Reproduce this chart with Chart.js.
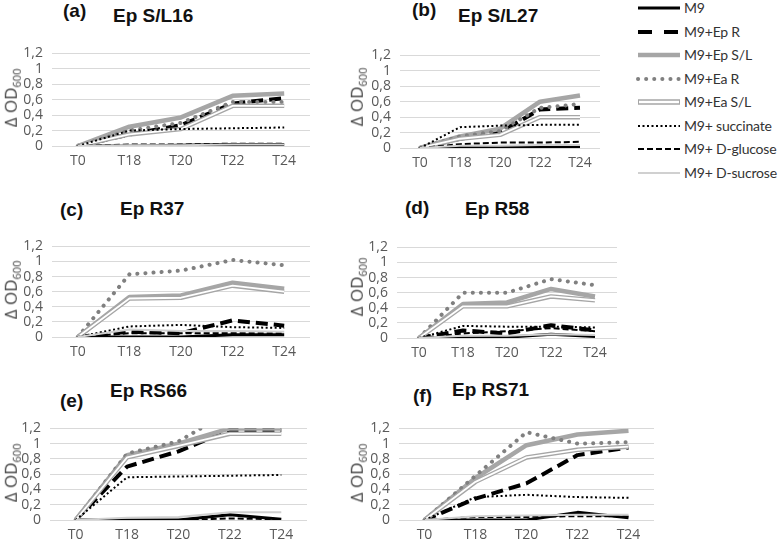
<!DOCTYPE html>
<html>
<head>
<meta charset="utf-8">
<script src="https://cdn.jsdelivr.net/npm/chart.js@4.4.0/dist/chart.umd.min.js"></script>
<style>
  body { margin: 0; width: 778px; height: 543px; background: #fff; position: relative; overflow: hidden; font-family: "Open Sans", sans-serif; }
  canvas { position: absolute; }
  .letter, .title { position: absolute; font: bold 19px "Liberation Sans", Arial, sans-serif; color: #111; line-height: 1; white-space: nowrap; }
  .ytitle { position: absolute; font-size: 17px; color: #404040; white-space: nowrap; line-height: 1; transform: translate(-50%, -50%) rotate(-90deg); }
  .ytitle sub { font-size: 11px; }
  .leg { position: absolute; left: 636px; height: 20px; white-space: nowrap; font-family: Lato, sans-serif; font-size: 14px; color: #333; }
  .leg svg { position: absolute; left: 0; top: 4px; }
  .leg span { position: absolute; left: 48px; top: 0; line-height: 20px; letter-spacing: -0.2px; }
</style>
</head>
<body>
<script>
const categories = ['T0', 'T18', 'T20', 'T22', 'T24'];
const panelLetters = ['(a)', '(b)', '(c)', '(d)', '(e)', '(f)'];
const panelTitles = ['Ep S/L16', 'Ep S/L27', 'Ep R37', 'Ep R58', 'Ep RS66', 'Ep RS71'];
const seriesNames = ['M9', 'M9+Ep R', 'M9+Ep S/L', 'M9+Ea R', 'M9+Ea S/L', 'M9+ succinate', 'M9+ D-glucose', 'M9+ D-sucrose'];

// one row per panel, a..f
const m9 = [
  [0, 0, 0.01, 0.02, 0.02],
  [0, 0.01, 0.01, 0.02, 0.02],
  [0, 0, 0, 0.03, 0.03],
  [0, 0, 0.01, 0.05, 0.02],
  [0, 0, 0, 0.07, 0.01],
  [0, 0, 0, 0.1, 0.03],
];
const epR = [
  [0, 0.15, 0.27, 0.55, 0.62],
  [0, 0.12, 0.2, 0.5, 0.52],
  [0, 0.07, 0.05, 0.22, 0.15],
  [0, 0.1, 0.06, 0.17, 0.1],
  [0, 0.7, 0.9, 1.18, 1.18],
  [0, 0.28, 0.48, 0.85, 0.95],
];
const epSL = [
  [0, 0.25, 0.37, 0.65, 0.68],
  [0, 0.15, 0.25, 0.6, 0.68],
  [0, 0.53, 0.55, 0.72, 0.64],
  [0, 0.45, 0.47, 0.65, 0.55],
  [0, 0.85, 1.0, 1.2, 1.2],
  [0, 0.55, 0.98, 1.12, 1.17],
];
const eaR = [
  [0, 0.2, 0.3, 0.57, 0.57],
  [0, 0.15, 0.22, 0.52, 0.57],
  [0, 0.83, 0.88, 1.02, 0.95],
  [0, 0.6, 0.6, 0.78, 0.7],
  [0, 0.87, 1.03, 1.42, 1.4],
  [0, 0.58, 1.15, 1.0, 1.02],
];
const eaSL = [
  [0, 0.15, 0.22, 0.52, 0.52],
  [0, 0.12, 0.17, 0.4, 0.4],
  [0, 0.51, 0.52, 0.68, 0.6],
  [0, 0.42, 0.42, 0.55, 0.5],
  [0, 0.82, 0.97, 1.13, 1.13],
  [0, 0.5, 0.82, 0.92, 0.96],
];
const succinate = [
  [0, 0.2, 0.22, 0.23, 0.24],
  [0, 0.27, 0.29, 0.3, 0.3],
  [0, 0.14, 0.16, 0.13, 0.12],
  [0, 0.16, 0.15, 0.15, 0.14],
  [0, 0.56, 0.57, 0.58, 0.59],
  [0, 0.3, 0.33, 0.3, 0.29],
];
const glucose = [
  [0, 0.02, 0.02, 0.03, 0.03],
  [0, 0.05, 0.07, 0.07, 0.08],
  [0, 0.05, 0.05, 0.05, 0.05],
  [0, 0.06, 0.09, 0.13, 0.09],
  [0, 0, 0, 0.02, 0.01],
  [0, 0.04, 0.04, 0.05, 0.05],
];
const sucrose = [
  [0, 0.01, 0.01, 0.02, 0.02],
  [0, 0.03, 0.03, 0.04, 0.04],
  [0, 0.1, 0.08, 0.08, 0.07],
  [0, 0.03, 0.03, 0.05, 0.04],
  [0, 0.03, 0.04, 0.1, 0.1],
  [0, 0.05, 0.06, 0.07, 0.07],
];
const allSeries = [m9, epR, epSL, eaR, eaSL, succinate, glucose, sucrose];

// line styles, in legend order
const styles = [
  {color: '#000', width: 3, dash: []},
  {color: '#000', width: 4, dash: [12, 6]},
  {color: '#a6a6a6', width: 4.5, dash: []},
  {color: '#808080', width: 4, dash: [0.1, 8], cap: 'round'},
  {color: '#a6a6a6', width: 4.5, dash: [], inner: true},
  {color: '#000', width: 2, dash: [2, 2.5]},
  {color: '#000', width: 2, dash: [6, 3]},
  {color: '#d0d0d0', width: 2, dash: []},
];

// plot area of each panel: left, top, width, height
const boxes = [
  [52, 46, 258, 100],
  [400, 48, 200, 100],
  [52, 239, 258, 98],
  [397, 240, 220, 98],
  [50, 421, 257, 99],
  [399, 421, 255, 99],
];
const letterPos = [[63, 1], [412, 0], [60, 200], [405, 198], [60, 391], [413, 386]];
const titlePos = [[113, 6], [458, 6], [120, 199], [465, 199], [110, 381], [452, 380]];
const yTitlePos = [[12, 98], [358, 97], [12, 290], [358, 287], [12, 473], [358, 473]];

const fmt = v => String(Math.round(v * 10) / 10).replace('.', ',');

function addDiv(cls, html, x, y) {
  const d = document.createElement('div');
  d.className = cls;
  d.innerHTML = html;
  d.style.left = x + 'px';
  d.style.top = y + 'px';
  document.body.appendChild(d);
}

boxes.forEach(([x0, y0, w, h], p) => {
  const canvas = document.createElement('canvas');
  canvas.width = 45 + w;
  canvas.height = 10 + h + 24;
  canvas.style.left = (x0 - 45) + 'px';
  canvas.style.top = (y0 - 10) + 'px';
  document.body.appendChild(canvas);

  const datasets = [];
  allSeries.forEach((rows, s) => {
    const st = styles[s];
    datasets.push({
      label: seriesNames[s],
      data: rows[p],
      borderColor: st.color,
      borderWidth: st.width,
      borderDash: st.dash,
      borderCapStyle: st.cap || 'butt',
      borderJoinStyle: 'round',
      order: 10 - s,
    });
    if (st.inner) {
      datasets.push({
        label: seriesNames[s] + ' inner',
        data: rows[p],
        borderColor: '#fff',
        borderWidth: 1.8,
        borderJoinStyle: 'round',
        order: 10 - s - 0.5,
      });
    }
  });

  new Chart(canvas, {
    type: 'line',
    data: {labels: categories, datasets},
    options: {
      responsive: false,
      animation: false,
      layout: {padding: {top: 10, left: 0, right: 0, bottom: 0}},
      plugins: {legend: {display: false}, tooltip: {enabled: false}},
      elements: {point: {radius: 0}, line: {tension: 0}},
      scales: {
        x: {
          offset: true,
          grid: {display: false, drawTicks: false},
          border: {display: false},
          ticks: {color: '#595959', font: {family: 'Open Sans', size: 14}, padding: 7, maxRotation: 0, autoSkip: false},
          afterFit(scale) { scale.height = 24; },
        },
        y: {
          min: 0,
          max: 1.2,
          grid: {color: '#d9d9d9', lineWidth: 1, drawTicks: false},
          border: {display: false},
          ticks: {stepSize: 0.2, autoSkip: false, padding: 9, color: '#595959', font: {family: 'Open Sans', size: 14}, callback: fmt},
          afterFit(scale) { scale.width = 45; },
        },
      },
    },
  });

  addDiv('letter', panelLetters[p], letterPos[p][0], letterPos[p][1]);
  addDiv('title', panelTitles[p], titlePos[p][0], titlePos[p][1]);
  addDiv('ytitle', '&Delta; OD<sub>600</sub>', yTitlePos[p][0], yTitlePos[p][1]);
});

// legend
seriesNames.forEach((name, s) => {
  const st = styles[s];
  const cy = 8 + 23.5 * s;
  let lines = `<line x1="2" y1="6" x2="44" y2="6" stroke="${st.color}" stroke-width="${st.width + (st.inner ? 1 : 0)}"
    stroke-dasharray="${s === 1 ? '14 12' : st.dash.join(' ')}" stroke-linecap="${st.cap || 'butt'}"/>`;
  if (st.inner) lines += '<line x1="3" y1="6" x2="43" y2="6" stroke="#fff" stroke-width="2.5"/>';
  addDiv('leg', `<svg width="46" height="12">${lines}</svg><span>${name}</span>`, 636, cy - 10);
});
</script>
</body>
</html>
